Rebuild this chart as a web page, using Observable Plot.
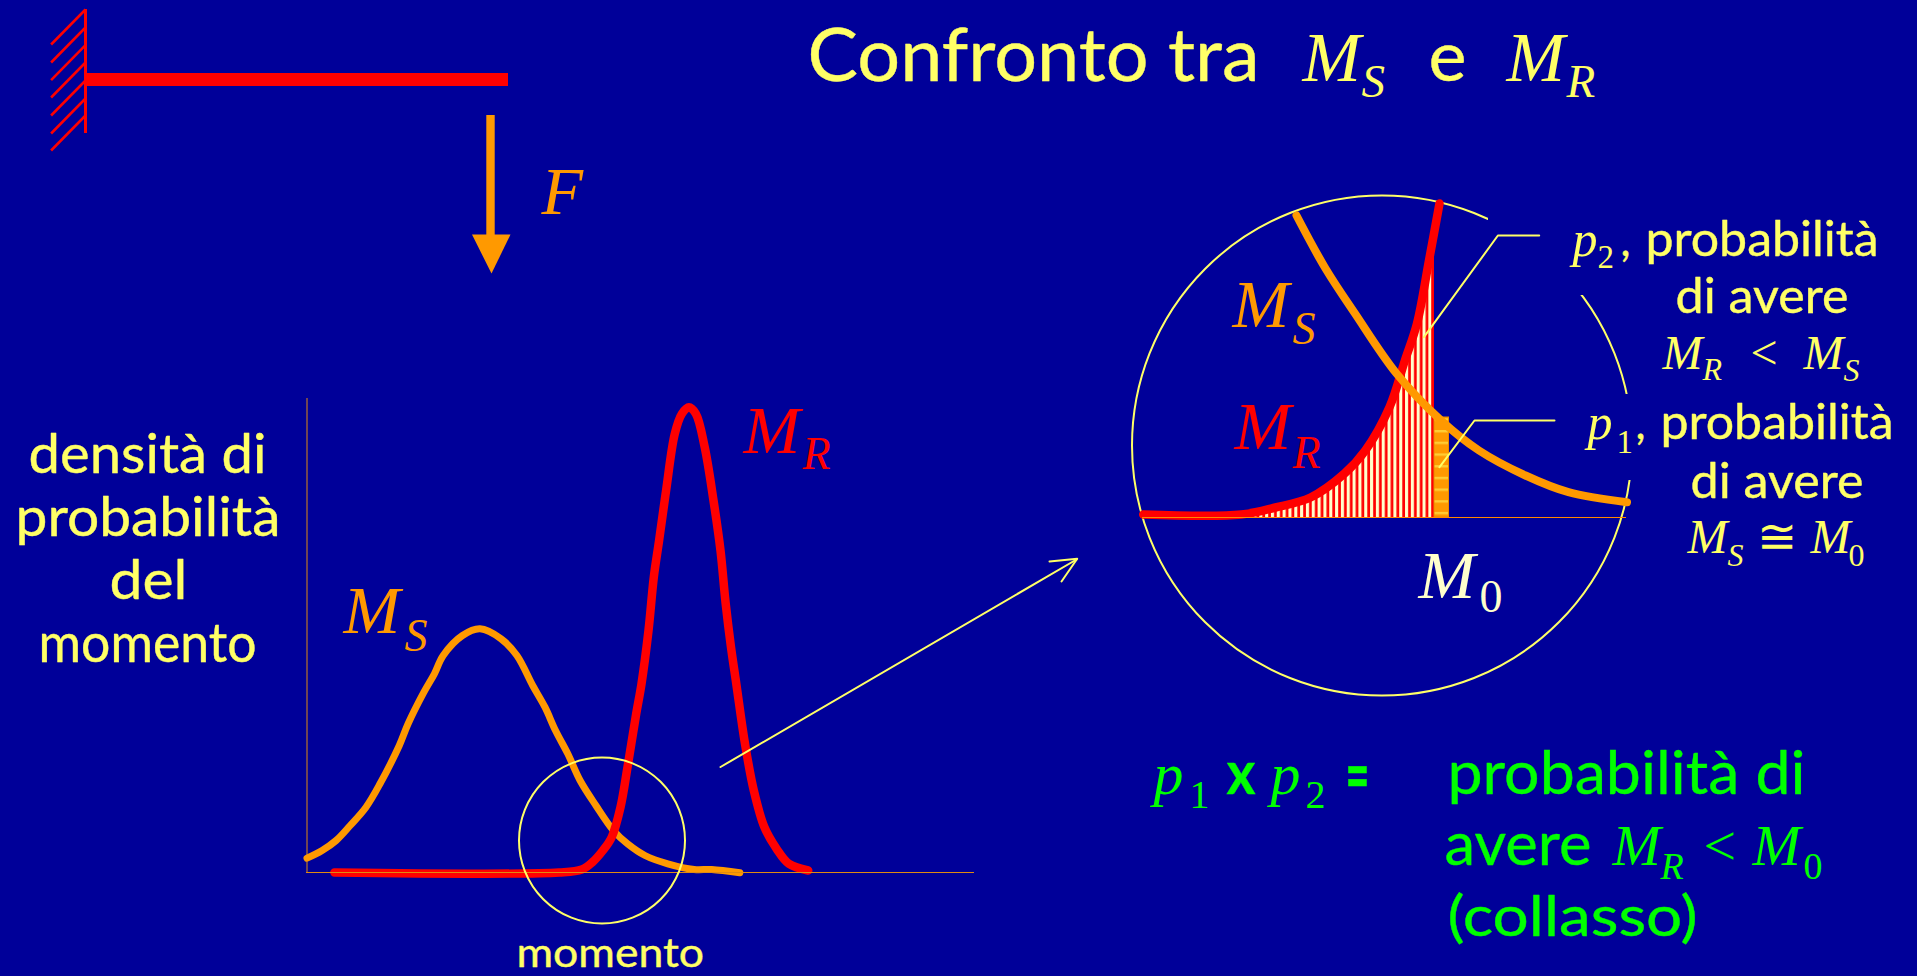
<!DOCTYPE html>
<html lang="it">
<head>
<meta charset="utf-8">
<title>Confronto tra MS e MR</title>
<script src="https://cdn.jsdelivr.net/npm/d3@7"></script>
<script src="https://cdn.jsdelivr.net/npm/@observablehq/plot@0.6"></script>
<style>
html,body{margin:0;padding:0;background:#000099;overflow:hidden}
svg{display:block}
</style>
</head>
<body>
<div id="chart"></div>
<script>
// Curves (slide coordinates)
const msCurve = [[306.5,857.7],[321.6,850],[335.6,840],[349.7,825],[365.5,806.7],[379.5,783.3],[398.8,745],[407.6,723.3],[423.4,691.7],[433.9,673.3],[442.7,655],[462,635],[479.5,628.3],[500.6,638.3],[516.4,655],[532.2,685],[544.5,706.7],[555,730],[567.3,753.3],[579.6,780],[595.4,805],[612.9,830],[627,843.3],[644.5,855],[667.3,863.3],[693.7,869],[711.2,869],[739.3,872.3]];
const mrCurve = [[333.9,872],[558.5,872],[581.3,869],[591.9,861.7],[602.4,850],[611.2,836.7],[620,806.7],[627,766.7],[635.7,713.3],[641,683.3],[648,630],[653.3,576.7],[658.6,540],[665.6,490],[674.3,433.3],[681.4,413.3],[688.4,406.7],[695.4,413.3],[704.2,446.7],[713,500],[720,550],[725.2,603.3],[730.5,646.7],[735.8,683.3],[744.5,743.3],[753.3,790],[763.9,826.7],[776.1,848.3],[788.4,863.3],[807.7,870]];
const insetMs = [[1296,215],[1325,268],[1354.5,313],[1396,373],[1440.6,420],[1478.5,450],[1525,475],[1568,491.7],[1626.5,501.7]];
const insetMr = [[1142.7,514],[1241,514],[1275,507],[1310,497],[1344,473],[1364.8,450],[1389,406.7],[1404.4,360],[1416.5,323],[1428.5,260],[1439,203]];
const insetHatch = [[1241,514],[1275,507],[1310,497],[1344,473],[1364.8,450],[1389,406.7],[1404.4,360],[1416.5,323],[1428.5,260],[1433,237]];
const wallTops = [9,27,44.6,62,80,98,115];

const ground = 872, insetGround = 517;
const BG="#000099", ORANGE="#FF9900", RED="#FF0000", YEL="#FFFF66", GREEN="#00FF00", CREAM="#FFFFCC", AXIS="#E08A10";
const SANS="Lato", SERIF="Liberation Serif, Times New Roman, serif";

const yLines = (a, color, w=2) => Plot.line(a, {stroke: color, strokeWidth: w, curve: "linear"});
const sans = (t, x, y, size, fill, weight=400) => Plot.text([t], {text: d => d, x: () => x, y: () => y, fontFamily: SANS, fontWeight: weight, fontSize: size, fill, stroke: fill, strokeWidth: 0.4, textAnchor: "start", lineAnchor: "bottom"});
const serif = (t, x, y, size, fill, italic=true) => Plot.text([t], {text: d => d, x: () => x, y: () => y, fontFamily: SERIF, fontStyle: italic ? "italic" : "normal", fontSize: size, fill, textAnchor: "start", lineAnchor: "bottom"});

// exact widths for the sans strings, so the substitute for the handwriting face keeps the layout
const widths = new Map([
  ["Confronto tra",452],["densità di",238],["probabilità",265],["del",78],["momento",218],["momento ",199],
  ["e",38],["probabilità ",246],["di avere",173],["probabilità di",358],["avere",147],["(collasso)",250],["x",29],["=",24]
]);

const defs = () => {
  const g = d3.create("svg:defs");
  const h = g.append("pattern").attr("id","hatch").attr("patternUnits","userSpaceOnUse").attr("width",5.83).attr("height",10);
  h.append("rect").attr("width",5.83).attr("height",10).attr("fill",RED);
  h.append("rect").attr("x",0).attr("width",3.1).attr("height",10).attr("fill",CREAM);
  const o = g.append("pattern").attr("id","bands").attr("patternUnits","userSpaceOnUse").attr("width",20).attr("height",11.7).attr("y",430);
  o.append("rect").attr("width",20).attr("height",11.7).attr("fill",ORANGE);
  o.append("rect").attr("width",20).attr("height",2.4).attr("fill","#FFCC33");
  return g.node();
};

const plot = Plot.plot({
  width: 1917, height: 976, margin: 0,
  x: {domain: [0,1917], range: [0,1917], axis: null},
  y: {domain: [0,976], range: [0,976], axis: null},
  style: {background: BG},
  marks: [
    defs,
    // cantilever
    Plot.ruleX(wallTops, {x: () => 85, y1: () => 9, y2: () => 133, stroke: RED, strokeWidth: 2.5}),
    Plot.link(wallTops, {x1: () => 85, y1: d => d, x2: () => 50.6, y2: d => d + 35, stroke: RED, strokeWidth: 2.5}),
    Plot.rect([0], {x1: () => 85, x2: () => 508, y1: () => 73, y2: () => 86, fill: RED}),
    Plot.rect([0], {x1: () => 486.3, x2: () => 494.7, y1: () => 115, y2: () => 235, fill: ORANGE}),
    Plot.line([[471.5,234],[510,234],[491,273],[471.5,234]], {fill: ORANGE, stroke: "none"}),
    // main chart
    Plot.ruleX([306.5], {y1: 398, y2: ground, stroke: AXIS, strokeWidth: 1}),
    Plot.line(msCurve, {stroke: ORANGE, strokeWidth: 7, curve: "catmull-rom"}),
    Plot.line(mrCurve, {stroke: RED, strokeWidth: 8.5, curve: "catmull-rom"}),
    Plot.ruleY([ground], {x1: 306, x2: 974, stroke: AXIS, strokeWidth: 1}),
    Plot.dot([0], {x: () => 601.5, y: () => 840, r: 83, stroke: YEL, strokeWidth: 2, fill: "none"}),
    // big circle with the two gaps of the original (text boxes cover it)
    Plot.dot([0], {x: () => 1381.5, y: () => 445, r: 250, stroke: YEL, strokeWidth: 2, fill: "none"}),
    Plot.rect([0], {x1: () => 1488, x2: () => 1650, y1: () => 150, y2: () => 295, fill: BG}),
    Plot.rect([0], {x1: () => 1600, x2: () => 1660, y1: () => 394, y2: () => 480, fill: BG}),
    // connecting arrow
    yLines([[720,766.5],[1076,559]], YEL),
    yLines([[1049,561],[1076.7,558.3],[1061,581]], YEL),
    // inset
    Plot.areaY(insetHatch, {x: d => d[0], y1: () => insetGround, y2: d => d[1], fill: "url(#hatch)"}),
    Plot.rect([0], {x1: () => 1431.5, x2: () => 1434, y1: () => 237, y2: () => insetGround, fill: RED}),
    Plot.rect([0], {x1: () => 1434, x2: () => 1448.5, y1: () => 417, y2: () => insetGround, fill: "url(#bands)", stroke: "#E68A00", strokeWidth: 1}),
    Plot.line(insetMr, {stroke: RED, strokeWidth: 8.5, curve: "catmull-rom"}),
    Plot.line(insetMs, {stroke: ORANGE, strokeWidth: 8, curve: "catmull-rom"}),
    Plot.ruleY([insetGround], {x1: 1142, x2: 1626, stroke: "#FF8800", strokeWidth: 1.2}),
    yLines([[1423.4,336.7],[1497.4,235],[1538.7,235]], YEL),
    yLines([[1439,466.7],[1474,420],[1554,420]], YEL),
    // title
    sans("Confronto tra", 807, 80, 74, YEL),
    serif("M", 1302, 80, 70, YEL), serif("S", 1361, 96, 47, YEL),
    sans("e", 1428, 80, 70, YEL),
    serif("M", 1506, 80, 70, YEL), serif("R", 1566, 96, 47, YEL),
    // cantilever label
    serif("F", 541, 213, 68, ORANGE),
    // y title
    sans("densità di", 28, 472, 55, YEL),
    sans("probabilità", 15, 535, 55, YEL),
    sans("del", 109, 598, 55, YEL),
    sans("momento", 38, 661, 55, YEL),
    sans("momento ", 516, 966, 40, YEL),
    // main labels
    serif("M", 343, 632, 68, ORANGE), serif("S", 404, 650, 46, ORANGE),
    serif("M", 743, 452, 68, RED), serif("R", 802, 468, 46, RED),
    // inset labels
    serif("M", 1232, 326, 68, ORANGE), serif("S", 1292, 343, 46, ORANGE),
    serif("M", 1234, 448, 68, RED), serif("R", 1292, 467, 46, RED),
    serif("M", 1418, 597, 68, CREAM), serif("0", 1479, 611, 46, CREAM, false),
    // right block
    serif("p", 1572, 255, 50, YEL), serif("2", 1597, 267, 33, YEL, false), sans(",", 1620, 255, 44, YEL),
    sans("probabilità ", 1645, 255, 48, YEL),
    sans("di avere", 1675, 312, 48, YEL),
    serif("M", 1662, 368, 48, YEL), serif("R", 1702, 379, 32, YEL), serif("<", 1750, 368, 48, YEL, false),
    serif("M", 1803, 368, 48, YEL), serif("S", 1843, 380, 32, YEL),
    serif("p", 1587, 438, 50, YEL), serif("1", 1616, 452, 33, YEL, false), sans(",", 1635, 438, 44, YEL),
    sans("probabilità ", 1660, 438, 48, YEL),
    sans("di avere", 1690, 497, 48, YEL),
    serif("M", 1687, 552, 48, YEL), serif("S", 1727, 565, 32, YEL), serif("≅", 1756, 552, 48, YEL, false),
    serif("M", 1810, 552, 48, YEL), serif("0", 1848, 565, 32, YEL, false),
    // bottom block
    serif("p", 1153, 793, 60, GREEN), serif("1", 1189, 807, 40, GREEN, false),
    sans("x", 1226, 793, 60, GREEN, 700),
    serif("p", 1270, 793, 60, GREEN), serif("2", 1305, 807, 40, GREEN, false),
    sans("=", 1345, 800, 72, GREEN, 700),
    sans("probabilità di", 1447, 793, 60, GREEN),
    sans("avere", 1444, 864, 60, GREEN),
    serif("M", 1612, 864, 58, GREEN), serif("R", 1660, 878, 38, GREEN), serif("<", 1703, 864, 58, GREEN, false),
    serif("M", 1752, 864, 58, GREEN), serif("0", 1803, 878, 38, GREEN, false),
    sans("(collasso)", 1447, 935, 56, GREEN)
  ]
});
document.getElementById("chart").append(plot);
plot.querySelectorAll("text").forEach(t => {
  const w = widths.get(t.textContent);
  if (w) { t.setAttribute("textLength", w); t.setAttribute("lengthAdjust", "spacingAndGlyphs"); }
});
</script>
</body>
</html>
